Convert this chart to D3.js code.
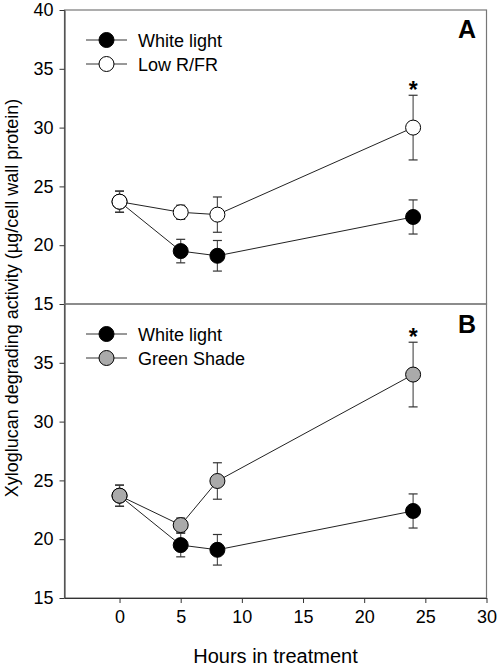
<!DOCTYPE html>
<html><head><meta charset="utf-8">
<script src="https://cdn.jsdelivr.net/npm/d3@7"></script>
<style>body{margin:0;background:#fff;}svg{display:block;font-family:"Liberation Sans",Arial,sans-serif;}</style>
</head><body>
<script>
const hours = [0, 5, 8, 24];
const whiteLight = [23.7, 19.5, 19.1, 22.4];
const whiteErr = [0.9, 1.0, 1.3, 1.45];
const lowRFR = [23.7, 22.8, 22.6, 30.0];
const lowRFRErr = [0.9, 0.6, 1.5, 2.75];
const greenShade = [23.7, 21.2, 24.95, 34.0];
const greenErr = [0.9, 0.6, 1.55, 2.75];
const xTicks = [0, 5, 10, 15, 20, 25, 30];
const yTicksA = [15, 20, 25, 30, 35, 40];
const yTicksB = [15, 20, 25, 30, 35];
const panels = [
  {letter: "A", label2: "Low R/FR", vals: lowRFR, err: lowRFRErr, fill: "#ffffff", ticks: yTicksA, range: [304, 10], sig: 3},
  {letter: "B", label2: "Green Shade", vals: greenShade, err: greenErr, fill: "#aaaaaa", ticks: yTicksB, range: [598, 304], sig: 3}
];

const W = 498, H = 668;
const svg = d3.select("body").append("svg").attr("width", W).attr("height", H);
const x = d3.scaleLinear().domain([-4.5, 30]).range([64.5, 486.5]);
const frame = "#777";

panels.forEach((p, pi) => {
  const y = d3.scaleLinear().domain([15, 40]).range(p.range);
  const g = svg.append("g");
  g.append("rect").attr("x", x(-4.5)).attr("y", y(40)).attr("width", x(30) - x(-4.5)).attr("height", y(15) - y(40))
    .attr("fill", "none").attr("stroke", frame).attr("stroke-width", 1.2);
  const ax = g.append("g").attr("transform", `translate(${x(-4.5)},0)`)
    .call(d3.axisLeft(y).tickValues(p.ticks).tickSize(5).tickPadding(6).tickSizeOuter(0));
  ax.select(".domain").attr("stroke", "#333");
  ax.selectAll(".tick line").attr("stroke", "#333");
  ax.selectAll("text").attr("font-size", 18).attr("fill", "#000").attr("font-family", "Liberation Sans, Arial, sans-serif");

  const series = [
    {vals: whiteLight, err: whiteErr, fill: "#000000"},
    {vals: p.vals, err: p.err, fill: p.fill}
  ];
  series.forEach(s => {
    const eb = g.append("g").attr("stroke", "#555").attr("stroke-width", 1.2);
    hours.forEach((h, i) => {
      const cx = x(h), top = y(s.vals[i] + s.err[i]), bot = y(s.vals[i] - s.err[i]);
      eb.append("line").attr("x1", cx).attr("x2", cx).attr("y1", top).attr("y2", bot);
      eb.append("line").attr("x1", cx - 4.5).attr("x2", cx + 4.5).attr("y1", top).attr("y2", top).attr("stroke", "#333");
      eb.append("line").attr("x1", cx - 4.5).attr("x2", cx + 4.5).attr("y1", bot).attr("y2", bot).attr("stroke", "#333");
    });
  });
  const line = d3.line().x((d, i) => x(hours[i])).y(d => y(d));
  series.forEach(s => {
    g.append("path").attr("d", line(s.vals)).attr("fill", "none").attr("stroke", "#222").attr("stroke-width", 1);
  });
  series.forEach(s => {
    g.selectAll(null).data(s.vals).enter().append("circle")
      .attr("cx", (d, i) => x(hours[i])).attr("cy", d => y(d)).attr("r", 7.5)
      .attr("fill", s.fill).attr("stroke", "#000").attr("stroke-width", 1);
  });
  g.append("text").attr("x", x(hours[p.sig])).attr("y", y(p.vals[p.sig] + p.err[p.sig]) + 3)
    .attr("text-anchor", "middle").attr("font-size", 23).attr("font-weight", "bold").text("*");
  g.append("text").attr("x", 467).attr("y", y(40) + (pi === 0 ? 28 : 29)).attr("text-anchor", "middle")
    .attr("font-size", 25).attr("font-weight", "bold").text(p.letter);
  const legY = [y(40) + 30, y(40) + 54];
  const legItems = [{label: "White light", fill: "#000000"}, {label: p.label2, fill: p.fill}];
  legItems.forEach((it, i) => {
    g.append("line").attr("x1", 86).attr("x2", 127).attr("y1", legY[i]).attr("y2", legY[i]).attr("stroke", "#333").attr("stroke-width", 1);
    g.append("circle").attr("cx", 106.5).attr("cy", legY[i]).attr("r", 7.5).attr("fill", it.fill).attr("stroke", "#000");
    g.append("text").attr("x", 138).attr("y", legY[i] + 6.5).attr("font-size", 18).text(it.label);
  });
});

const xa = svg.append("g").attr("transform", "translate(0,598)")
  .call(d3.axisBottom(x).tickValues(xTicks).tickSize(5).tickPadding(7).tickSizeOuter(0));
xa.select(".domain").attr("stroke", "#333");
xa.selectAll(".tick line").attr("stroke", "#333");
xa.selectAll("text").attr("font-size", 18).attr("fill", "#000").attr("font-family", "Liberation Sans, Arial, sans-serif");

svg.append("text").attr("x", 275.5).attr("y", 663).attr("text-anchor", "middle").attr("font-size", 20).text("Hours in treatment");
svg.append("text").attr("transform", "translate(18,298) rotate(-90)").attr("text-anchor", "middle").attr("font-size", 18)
  .text("Xyloglucan degrading activity (\u00b5g/cell wall protein)");
</script>
</body></html>
